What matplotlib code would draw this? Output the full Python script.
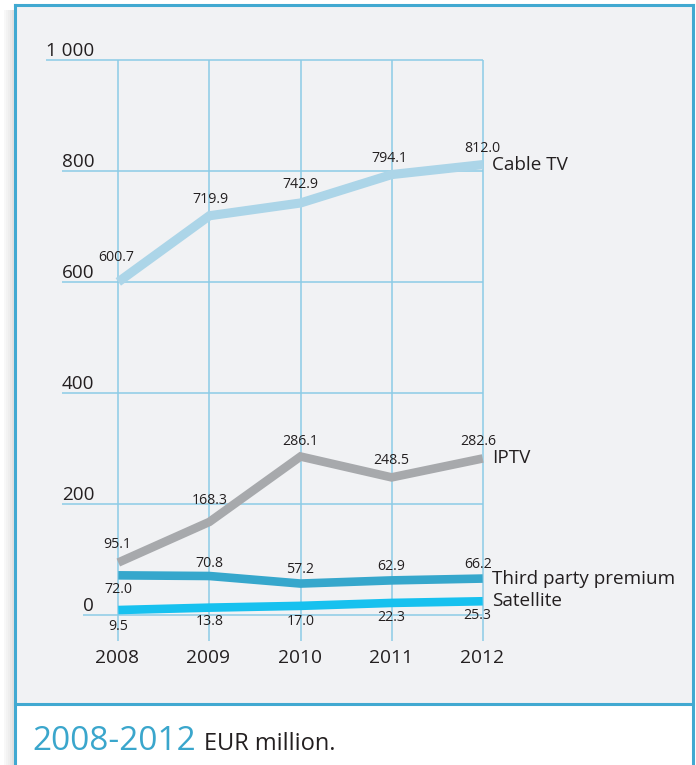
import matplotlib
matplotlib.use("Agg")
import matplotlib.pyplot as plt
from matplotlib.patches import Rectangle
from matplotlib.lines import Line2D

plt.rcParams['font.family'] = ['Open Sans', 'DejaVu Sans']

# ---- data ----
years = [2008, 2009, 2010, 2011, 2012]
series_names = ["Cable TV", "IPTV", "Third party premium", "Satellite"]
cable_tv = [600.7, 719.9, 742.9, 794.1, 812.0]
iptv = [95.1, 168.3, 286.1, 248.5, 282.6]
third_party = [72.0, 70.8, 57.2, 62.9, 66.2]
satellite = [9.5, 13.8, 17.0, 22.3, 25.3]
y_ticks = [0, 200, 400, 600, 800, 1000]
y_tick_labels = ["0", "200", "400", "600", "800", "1 000"]
caption_range = "2008-2012"
caption_unit = "EUR million."

# ---- styles ----
colors = ["#acd5e8", "#a7a9ac", "#36a7cc", "#17c1ef"]
widths = [6.6, 6.2, 6.2, 6.2]
# label offsets in pixels (dx, dy) relative to each point
label_offsets = [
    [(-2, 24), (1, 16), (0, 18), (-2, 16), (0, 16)],
    [(-1, 18), (0, 21), (0, 15), (0, 17), (-4, 17)],
    [(0, -14), (0, 13), (0, 14), (0, 14), (-5, 14)],
    [(0, -16), (0, -14), (0, -16), (0, -15), (-5, -14)],
]
text_color = "#231f20"
grid_color = "#8ccbe6"
frame_color = "#41a9d1"
bg_color = "#f1f2f4"

W, H = 696, 765
fig = plt.figure(figsize=(W / 100, H / 100), dpi=100)
fig.patch.set_facecolor("white")

# pixel mapping
x0px, xstep = 118.3, 91.1
y0px, yscale = 615.3, 0.555
ax = fig.add_axes([0, 0, 1, 1])
ax.set_xlim(2008 - x0px / xstep, 2008 + (W - x0px) / xstep)
ax.set_ylim(-(H - y0px) / yscale, y0px / yscale)
ax.axis("off")
ax.set_zorder(5)


def fx(px):
    return px / W


def fy(py):
    return 1 - py / H


# ---- frame (figure coords) ----
for i, a in enumerate([0.05, 0.09, 0.13, 0.18, 0.23]):
    fig.patches.append(Rectangle((fx(4 + i * 2), fy(H)), fx(2), fy(10) - fy(H),
                                 transform=fig.transFigure, facecolor="#808080",
                                 alpha=a, edgecolor="none", zorder=0))
fig.patches.append(Rectangle((fx(15), fy(704)), fx(692.7) - fx(15), fy(5) - fy(704),
                             transform=fig.transFigure, facecolor=bg_color,
                             edgecolor="none", zorder=0))
fig.patches.append(Rectangle((fx(15), fy(H)), fx(692.7) - fx(15), fy(704) - fy(H),
                             transform=fig.transFigure, facecolor="white",
                             edgecolor="none", zorder=0))
lw_frame = 2.2
for (xa, ya, xb, yb) in [(15, 5, 692.7, 5), (15, 5, 15, H), (692.7, 5, 692.7, H),
                         (15, 704, 692.7, 704)]:
    fig.lines.append(Line2D([fx(xa), fx(xb)], [fy(ya), fy(yb)], transform=fig.transFigure,
                            color=frame_color, lw=lw_frame, zorder=1))

# ---- grid ----
ax.vlines(years, -45.8, 1000, color=grid_color, lw=1.1, zorder=1)
fig.canvas.draw()
renderer = fig.canvas.get_renderer()
inv = ax.transData.inverted()
for v, lab in zip(y_ticks, y_tick_labels):
    t = ax.annotate(lab, xy=(2008, v), xytext=(-24, 4), textcoords="offset pixels",
                    ha="right", va="baseline", fontsize=13.6, color=text_color)
    bb = t.get_window_extent(renderer)
    xl = inv.transform((bb.x0, 0))[0]
    ax.hlines(v, xl, years[-1], color=grid_color, lw=1.1, zorder=1)

# ---- lines ----
all_series = [cable_tv, iptv, third_party, satellite]
for vals, name, c, lw, offs in zip(all_series, series_names, colors, widths, label_offsets):
    ax.plot(years, vals, color=c, lw=lw, solid_capstyle="butt", solid_joinstyle="miter", zorder=3)
    for x, v, (dx, dy) in zip(years, vals, offs):
        ax.annotate(f"{v:.1f}", xy=(x, v), xytext=(dx, dy), textcoords="offset pixels",
                    ha="center", va="center", fontsize=10.2, color=text_color, zorder=4)
    ax.annotate(name, xy=(years[-1], vals[-1]), xytext=(9, 0), textcoords="offset pixels",
                ha="left", va="center", fontsize=13.6, color=text_color, zorder=4)

# x labels
for x in years:
    ax.annotate(str(x), xy=(x, -45.8), xytext=(-1, -17), textcoords="offset pixels",
                ha="center", va="center", fontsize=13.8, color=text_color)

# ---- caption ----
t1 = fig.text(fx(32), fy(750), caption_range, fontsize=24, color="#3aa6cc",
              ha="left", va="baseline")
bb1 = t1.get_window_extent(renderer)
fig.text(bb1.x1 / W + fx(8), fy(750), caption_unit, fontsize=17, color=text_color,
         ha="left", va="baseline")

fig.savefig("out.png", dpi=100, facecolor=fig.get_facecolor())
